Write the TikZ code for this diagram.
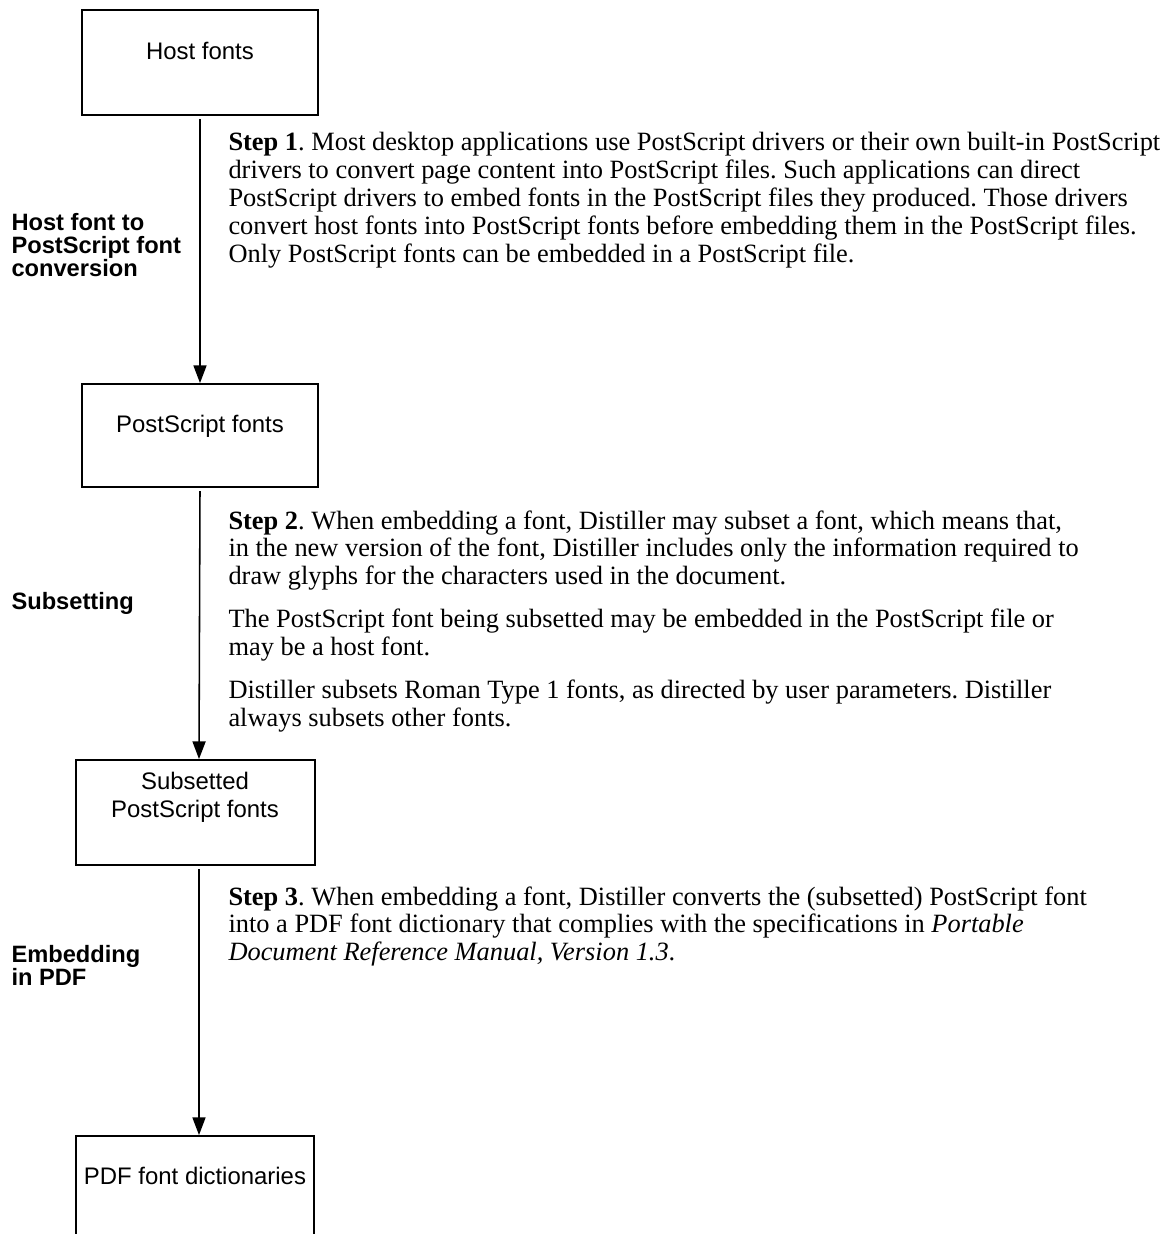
\documentclass[tikz,border=0pt]{standalone}
\usepackage{fontspec}
\setmainfont{Liberation Serif}
\setsansfont{Liberation Sans}
\usetikzlibrary{arrows.meta}
\frenchspacing
\def\px{0.3846pt}
\tikzset{
  fontbox/.style = {draw, line width=0.7pt, inner sep=0pt},
  boxtext/.style = {font=\sffamily\fontsize{9.2}{10.8}\selectfont, align=center, anchor=north, inner sep=0pt},
  sidelabel/.style = {font=\sffamily\bfseries\fontsize{9.1}{8.9}\selectfont, align=left, anchor=north west, inner sep=0pt},
  steptext/.style = {font=\fontsize{10.15}{10.7}\selectfont, align=left, anchor=north west, inner sep=0pt},
  flow/.style = {-{Triangle[length=6.8pt,width=5pt]}, line width=0.6pt, shorten <=1.2pt}
}
\begin{document}
\begin{tikzpicture}[x=\px, y=-\px]
\useasboundingbox (0,0) rectangle (1173,1234);
\node[fontbox, minimum width=236*\px, minimum height=105*\px] (host) at (200,62.5) {};
\node[fontbox, minimum width=236*\px, minimum height=103*\px] (ps) at (200,435.5) {};
\node[fontbox, minimum width=239*\px, minimum height=105*\px] (sub) at (195.5,812.5) {};
\node[fontbox, minimum width=238*\px, minimum height=104*\px] (pdf) at (195,1188) {};
\node[boxtext] (hostlbl) at (200,42) {Host fonts};
\node[boxtext] (pslbl) at (200,415) {PostScript fonts};
\node[boxtext] (sublbl) at (195,772) {Subsetted\\PostScript fonts};
\node[boxtext] (pdflbl) at (195,1167) {PDF font dictionaries};
\draw[flow] (host.south) -- (ps.north);
\draw[flow] (ps.south) -- ([xshift=3.5*\px]sub.north);
\draw[flow] ([xshift=3.5*\px]sub.south) -- ([xshift=4*\px]pdf.north);
\node[sidelabel] (conv) at (11,213) {Host font to\\PostScript font\\conversion};
\node[sidelabel] (subset) at (11,592) {Subsetting};
\node[sidelabel] (embed) at (11,945) {Embedding\\in PDF};
\node[steptext] (step1) at (228,132) {\textbf{Step 1}. Most desktop applications use PostScript drivers or their own built-in PostScript\\
drivers to convert page content into PostScript files. Such applications can direct\\
PostScript drivers to embed fonts in the PostScript files they produced. Those drivers\\
convert host fonts into PostScript fonts before embedding them in the PostScript files.\\
Only PostScript fonts can be embedded in a PostScript file.};
\node[steptext] (step2) at (228,510) {\textbf{Step 2}. When embedding a font, Distiller may subset a font, which means that,\\
in the new version of the font, Distiller includes only the information required to\\
draw glyphs for the characters used in the document.\\[5.8pt]
The PostScript font being subsetted may be embedded in the PostScript file or\\
may be a host font.\\[5.8pt]
Distiller subsets Roman Type 1 fonts, as directed by user parameters. Distiller\\
always subsets other fonts.};
\node[steptext] (step3) at (228,886) {\textbf{Step 3}. When embedding a font, Distiller converts the (subsetted) PostScript font\\
into a PDF font dictionary that complies with the specifications in \textit{Portable}\\
\textit{Document Reference Manual, Version 1.3}.};
\end{tikzpicture}
\end{document}
